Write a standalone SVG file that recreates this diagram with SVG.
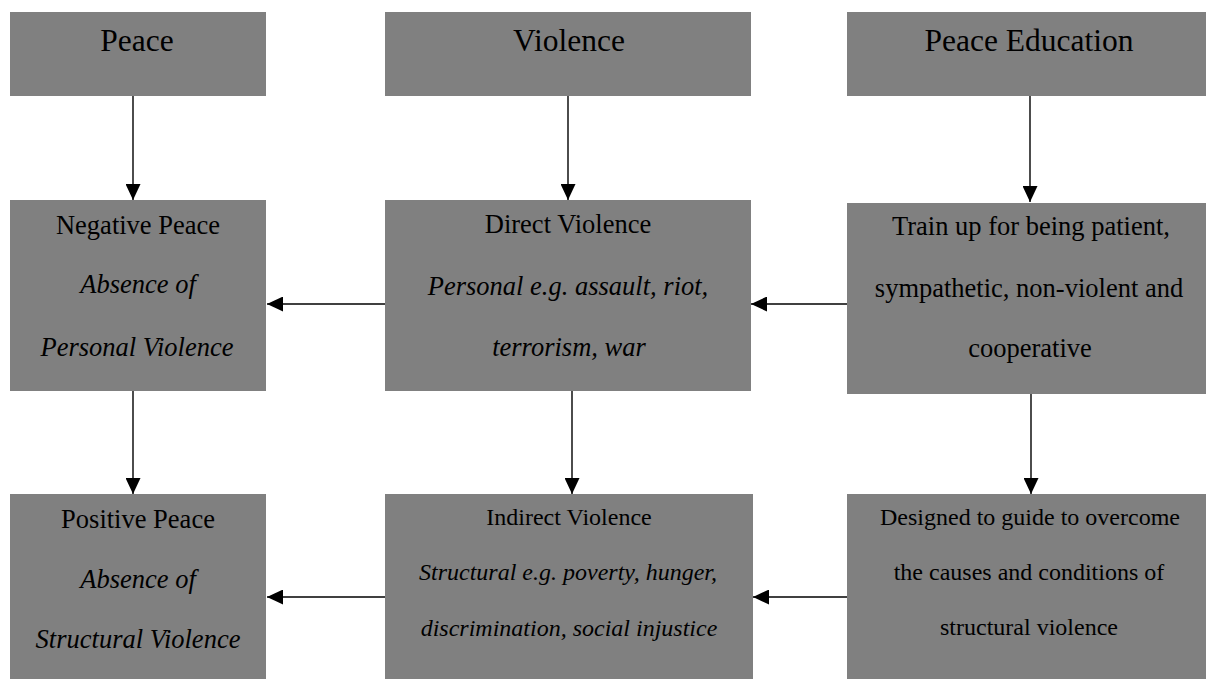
<svg xmlns="http://www.w3.org/2000/svg" width="1206" height="679" viewBox="0 0 1206 679">
<defs>
<marker id="ah" markerUnits="userSpaceOnUse" markerWidth="16" markerHeight="15" refX="16" refY="7.5" orient="auto">
<path d="M0,0 L16,7.5 L0,15 z" fill="#000"/>
</marker>
<style>
.box{fill:#808080;}
.t{font-family:'Liberation Serif','Times New Roman',serif;fill:#000;text-anchor:middle;}
.h{font-size:31.5px;}
.m{font-size:26.5px;}
.s{font-size:24px;}
.i{font-style:italic;}
.c{stroke:#000;stroke-width:1.4;fill:none;marker-end:url(#ah);}
</style>
</defs>
<rect width="1206" height="679" fill="#fff"/>
<g id="peace"><rect class="box" x="10" y="12" width="256" height="84"/><text class="t h" x="137" y="51">Peace</text></g>
<g id="violence"><rect class="box" x="385" y="12" width="366" height="84"/><text class="t h" x="569" y="51">Violence</text></g>
<g id="peace-education"><rect class="box" x="847" y="12" width="367" height="84"/><text class="t h" x="1029" y="51">Peace Education</text></g>

<g id="negative-peace"><rect class="box" x="10" y="200" width="256" height="191"/>
<text class="t m" x="138" y="234">Negative Peace</text>
<text class="t m i" x="138" y="293">Absence of</text>
<text class="t m i" x="137" y="356">Personal Violence</text></g>
<g id="direct-violence"><rect class="box" x="385" y="200" width="366" height="191"/>
<text class="t m" x="568" y="233">Direct Violence</text>
<text class="t m i" x="568" y="295">Personal e.g. assault, riot,</text>
<text class="t m i" x="569" y="356">terrorism, war</text></g>
<g id="train-up"><rect class="box" x="847" y="203" width="367" height="191"/>
<text class="t m" x="1031" y="235">Train up for being patient,</text>
<text class="t m" x="1029" y="297">sympathetic, non-violent and</text>
<text class="t m" x="1030" y="357">cooperative</text></g>

<g id="positive-peace"><rect class="box" x="10" y="494" width="256" height="190"/>
<text class="t m" x="138" y="528">Positive Peace</text>
<text class="t m i" x="138" y="588">Absence of</text>
<text class="t m i" x="138" y="648">Structural Violence</text></g>
<g id="indirect-violence"><rect class="box" x="385" y="494" width="368" height="190"/>
<text class="t s" x="569" y="525">Indirect Violence</text>
<text class="t s i" x="568" y="580">Structural e.g. poverty, hunger,</text>
<text class="t s i" x="569" y="636">discrimination, social injustice</text></g>
<g id="designed"><rect class="box" x="847" y="494" width="367" height="190"/>
<text class="t s" x="1030" y="525">Designed to guide to overcome</text>
<text class="t s" x="1029" y="580">the causes and conditions of</text>
<text class="t s" x="1029" y="635">structural violence</text></g>

<g id="connectors">
<line class="c" x1="133" y1="96" x2="133" y2="200"/>
<line class="c" x1="568" y1="96" x2="568" y2="200"/>
<line class="c" x1="1030" y1="96" x2="1030" y2="202"/>
<line class="c" x1="133" y1="391" x2="133" y2="494"/>
<line class="c" x1="572" y1="391" x2="572" y2="494"/>
<line class="c" x1="1031" y1="394" x2="1031" y2="494"/>
<line class="c" x1="385" y1="304" x2="267" y2="304"/>
<line class="c" x1="847" y1="304" x2="751" y2="304"/>
<line class="c" x1="385" y1="597" x2="267" y2="597"/>
<line class="c" x1="847" y1="597" x2="753" y2="597"/>
</g>
</svg>
